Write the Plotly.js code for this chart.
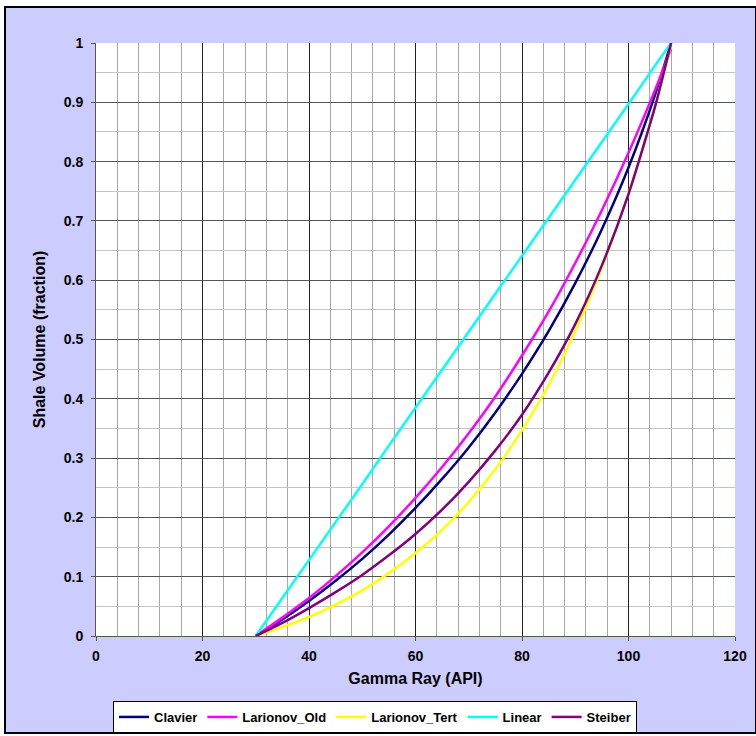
<!DOCTYPE html>
<html>
<head>
<meta charset="utf-8">
<script src="https://cdn.plot.ly/plotly-3.0.1.min.js"></script>
<style>
html, body { margin: 0; padding: 0; background: #ffffff; }
#chart { width: 756px; height: 736px; }
</style>
</head>
<body>
<div id="chart"></div>
<script>
// Gamma ray values (API)
const gammaRay = [30, 35, 40, 45, 50, 55, 60, 65, 70, 75, 80, 85, 90, 95, 100, 105, 108];

// Shale volume (fraction)
const clavier = [0, 0.028, 0.059, 0.093, 0.130, 0.171, 0.216, 0.265, 0.318, 0.377, 0.442, 0.514, 0.595, 0.686, 0.790, 0.913, 1.0];
const larionovOld = [0, 0.031, 0.064, 0.101, 0.141, 0.185, 0.233, 0.285, 0.342, 0.404, 0.473, 0.547, 0.629, 0.718, 0.815, 0.921, 0.99];
const larionovTert = [0, 0.015, 0.032, 0.053, 0.077, 0.106, 0.140, 0.179, 0.226, 0.281, 0.347, 0.423, 0.514, 0.621, 0.746, 0.894, 0.996];
const linear = [0, 0.064, 0.128, 0.192, 0.256, 0.321, 0.385, 0.449, 0.513, 0.577, 0.641, 0.705, 0.769, 0.833, 0.897, 0.962, 1.0];
const steiber = [0, 0.022, 0.047, 0.074, 0.103, 0.136, 0.172, 0.213, 0.260, 0.313, 0.373, 0.444, 0.526, 0.625, 0.745, 0.893, 1.0];

const seriesNames = ["Clavier", "Larionov_Old", "Larionov_Tert", "Linear", "Steiber"];
const seriesValues = [clavier, larionovOld, larionovTert, linear, steiber];
const seriesColors = ["#000080", "#ff00ff", "#ffff00", "#00ffff", "#800080"];

const traces = seriesNames.map((name, i) => ({
  x: gammaRay,
  y: seriesValues[i],
  name: name,
  type: "scatter",
  mode: "lines",
  line: { color: seriesColors[i], width: 2.5, shape: "spline", smoothing: 0.6 },
  hoverinfo: "x+y+name"
}));

const fontFam = "Liberation Sans, Arial, sans-serif";

const layout = {
  width: 756,
  height: 736,
  margin: { l: 96, r: 21, t: 43, b: 100, autoexpand: false },
  paper_bgcolor: "#ffffff",
  plot_bgcolor: "#ffffff",
  showlegend: true,
  font: { family: fontFam, size: 14, color: "#000000" },
  xaxis: {
    range: [0, 120],
    dtick: 20,
    tick0: 0,
    ticks: "outside",
    ticklen: 4,
    tickcolor: "#555555",
    ticklabelstandoff: 3,
    showline: true,
    linecolor: "#555555",
    linewidth: 1,
    showgrid: true,
    gridcolor: "#222222",
    gridwidth: 1,
    zeroline: false,
    tickfont: { family: fontFam, size: 14, color: "#000000", weight: "bold" },
    minor: { dtick: 4, showgrid: true, gridcolor: "#a8a8a8", gridwidth: 1 },
    title: { text: "Gamma Ray (API)", font: { family: fontFam, size: 16, color: "#000000", weight: "bold" }, standoff: 10 }
  },
  yaxis: {
    range: [0, 1],
    dtick: 0.1,
    tick0: 0,
    ticks: "outside",
    ticklen: 4,
    tickcolor: "#555555",
    ticklabelstandoff: 5,
    showline: true,
    linecolor: "#555555",
    linewidth: 1,
    showgrid: true,
    gridcolor: "#555555",
    gridwidth: 1,
    zeroline: false,
    tickfont: { family: fontFam, size: 14, color: "#000000", weight: "bold" },
    minor: { dtick: 0.05, showgrid: true, gridcolor: "#c4c4c4", gridwidth: 1 },
    title: { text: "Shale Volume (fraction)", font: { family: fontFam, size: 16, color: "#000000", weight: "bold" }, standoff: 14 }
  },
  legend: {
    orientation: "h",
    x: 0.4366,
    xanchor: "center",
    y: -0.1096,
    yanchor: "top",
    bgcolor: "#ffffff",
    bordercolor: "#000000",
    borderwidth: 1,
    font: { family: fontFam, size: 13, color: "#000000", weight: "bold" },
    itemwidth: 30,
    traceorder: "normal"
  },
  shapes: [
    {
      type: "rect", xref: "paper", yref: "paper", layer: "below",
      x0: -0.1424, x1: 1.0329, y0: -0.1636, y1: 1.0607,
      fillcolor: "#ccccff", line: { color: "#000000", width: 2 }
    },
    {
      type: "rect", xref: "paper", yref: "paper", layer: "below",
      x0: 0, x1: 1, y0: 0, y1: 1,
      fillcolor: "#ffffff", line: { width: 0 }
    }
  ]
};

Plotly.newPlot("chart", traces, layout, { displayModeBar: false, staticPlot: true });
</script>
</body>
</html>
